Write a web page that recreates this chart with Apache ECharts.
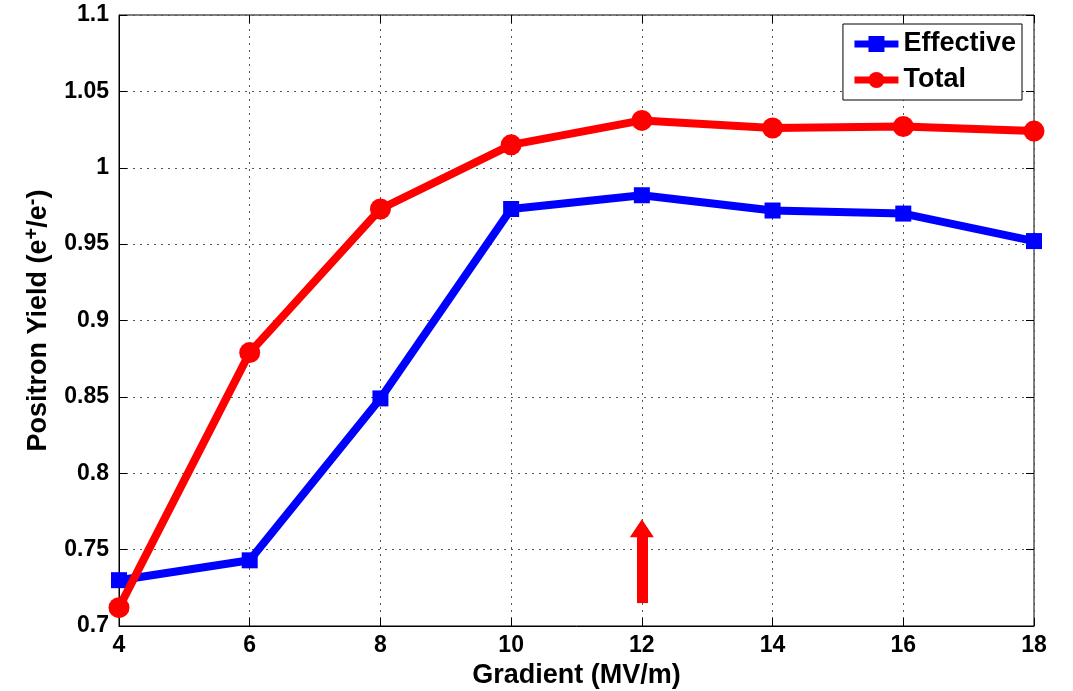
<!DOCTYPE html>
<html>
<head>
<meta charset="utf-8">
<script src="https://cdn.jsdelivr.net/npm/echarts@6/dist/echarts.min.js"></script>
<style>
  html, body { margin: 0; padding: 0; background: #fff; }
  #main { width: 1073px; height: 691px; }
</style>
</head>
<body>
<div id="main"></div>
<script>
var gradient = [4, 6, 8, 10, 12, 14, 16, 18];
var effective = [0.730, 0.743, 0.849, 0.973, 0.982, 0.972, 0.970, 0.952];
var total = [0.712, 0.879, 0.973, 1.015, 1.031, 1.026, 1.027, 1.024];
// red arrow marking the chosen gradient
var arrowSpan = [[12, 0.715], [12, 0.764]];

var chart = echarts.init(document.getElementById('main'));

var font = 'Liberation Sans, Arial, sans-serif';
var tickStyle = { color: '#000', width: 1 };

function pairs(ys) {
  return gradient.map(function (x, i) { return [x, ys[i]]; });
}

var option = {
  animation: false,
  grid: {
    left: 119, right: 39, top: 15, bottom: 65,
    outerBoundsMode: 'none',
    show: true, borderColor: '#000', borderWidth: 1
  },
  legend: {
    right: 51, top: 24,
    orient: 'vertical',
    data: ['Effective', 'Total'],
    backgroundColor: '#fff',
    borderColor: '#000',
    borderWidth: 1,
    padding: [6, 6, 6, 8],
    itemWidth: 44,
    itemHeight: 20,
    itemGap: 8,
    lineStyle: { width: 7 },
    textStyle: { fontFamily: font, fontWeight: 'bold', fontSize: 27, color: '#000', lineHeight: 28 }
  },
  xAxis: [{
    type: 'value', min: 4, max: 18, interval: 2,
    name: 'Gradient (MV/m)', nameLocation: 'middle', nameGap: 34,
    nameTextStyle: { fontFamily: font, fontWeight: 'bold', fontSize: 27, color: '#000' },
    axisLine: { lineStyle: { color: '#000' } },
    axisTick: { inside: true, length: 8, lineStyle: tickStyle },
    axisLabel: { fontFamily: font, fontWeight: 'bold', fontSize: 23, color: '#000', margin: 8 },
    splitLine: { show: true, lineStyle: { color: '#555', type: [2, 5], width: 1 } }
  }, {
    type: 'value', min: 4, max: 18, interval: 2, position: 'top',
    axisLine: { show: false },
    axisTick: { inside: true, length: 8, lineStyle: tickStyle },
    axisLabel: { show: false }, splitLine: { show: false }
  }],
  yAxis: [{
    type: 'value', min: 0.7, max: 1.1, interval: 0.05,
    name: '{b|Positron Yield (e}{s|+}{b|/e}{s|-}{b|)}',
    nameLocation: 'middle', nameGap: 63, nameRotate: 90,
    nameTextStyle: {
      rich: {
        b: { fontFamily: font, fontWeight: 'bold', fontSize: 27, color: '#000' },
        s: { fontFamily: font, fontWeight: 'bold', fontSize: 20, color: '#000', verticalAlign: 'top', padding: [0, 0, 14, 0] }
      }
    },
    axisLine: { show: true, lineStyle: { color: '#000' } },
    axisTick: { show: true, inside: true, length: 8, lineStyle: tickStyle },
    axisLabel: {
      fontFamily: font, fontWeight: 'bold', fontSize: 23, color: '#000', margin: 10,
      formatter: function (v) { return String(parseFloat(v.toFixed(2))); }
    },
    splitLine: { show: true, lineStyle: { color: '#555', type: [2, 5], width: 1 } }
  }, {
    type: 'value', min: 0.7, max: 1.1, interval: 0.05, position: 'right',
    axisLine: { show: false },
    axisTick: { show: true, inside: true, length: 8, lineStyle: tickStyle },
    axisLabel: { show: false }, splitLine: { show: false }
  }],
  series: [{
    name: 'Effective',
    type: 'line',
    data: pairs(effective),
    symbol: 'rect',
    symbolSize: 16,
    itemStyle: { color: '#0000ff' },
    lineStyle: { color: '#0000ff', width: 8 },
    z: 3
  }, {
    name: 'Total',
    type: 'line',
    data: pairs(total),
    symbol: 'circle',
    symbolSize: 21,
    itemStyle: { color: '#ff0000' },
    lineStyle: { color: '#ff0000', width: 8 },
    z: 4,
    markLine: {
      silent: true,
      symbol: ['none', 'triangle'],
      symbolSize: [24, 18],
      label: { show: false },
      lineStyle: { color: '#ff0000', width: 11, type: 'solid' },
      data: [[{ coord: arrowSpan[0] }, { coord: arrowSpan[1] }]]
    }
  }]
};

chart.setOption(option);
</script>
</body>
</html>
